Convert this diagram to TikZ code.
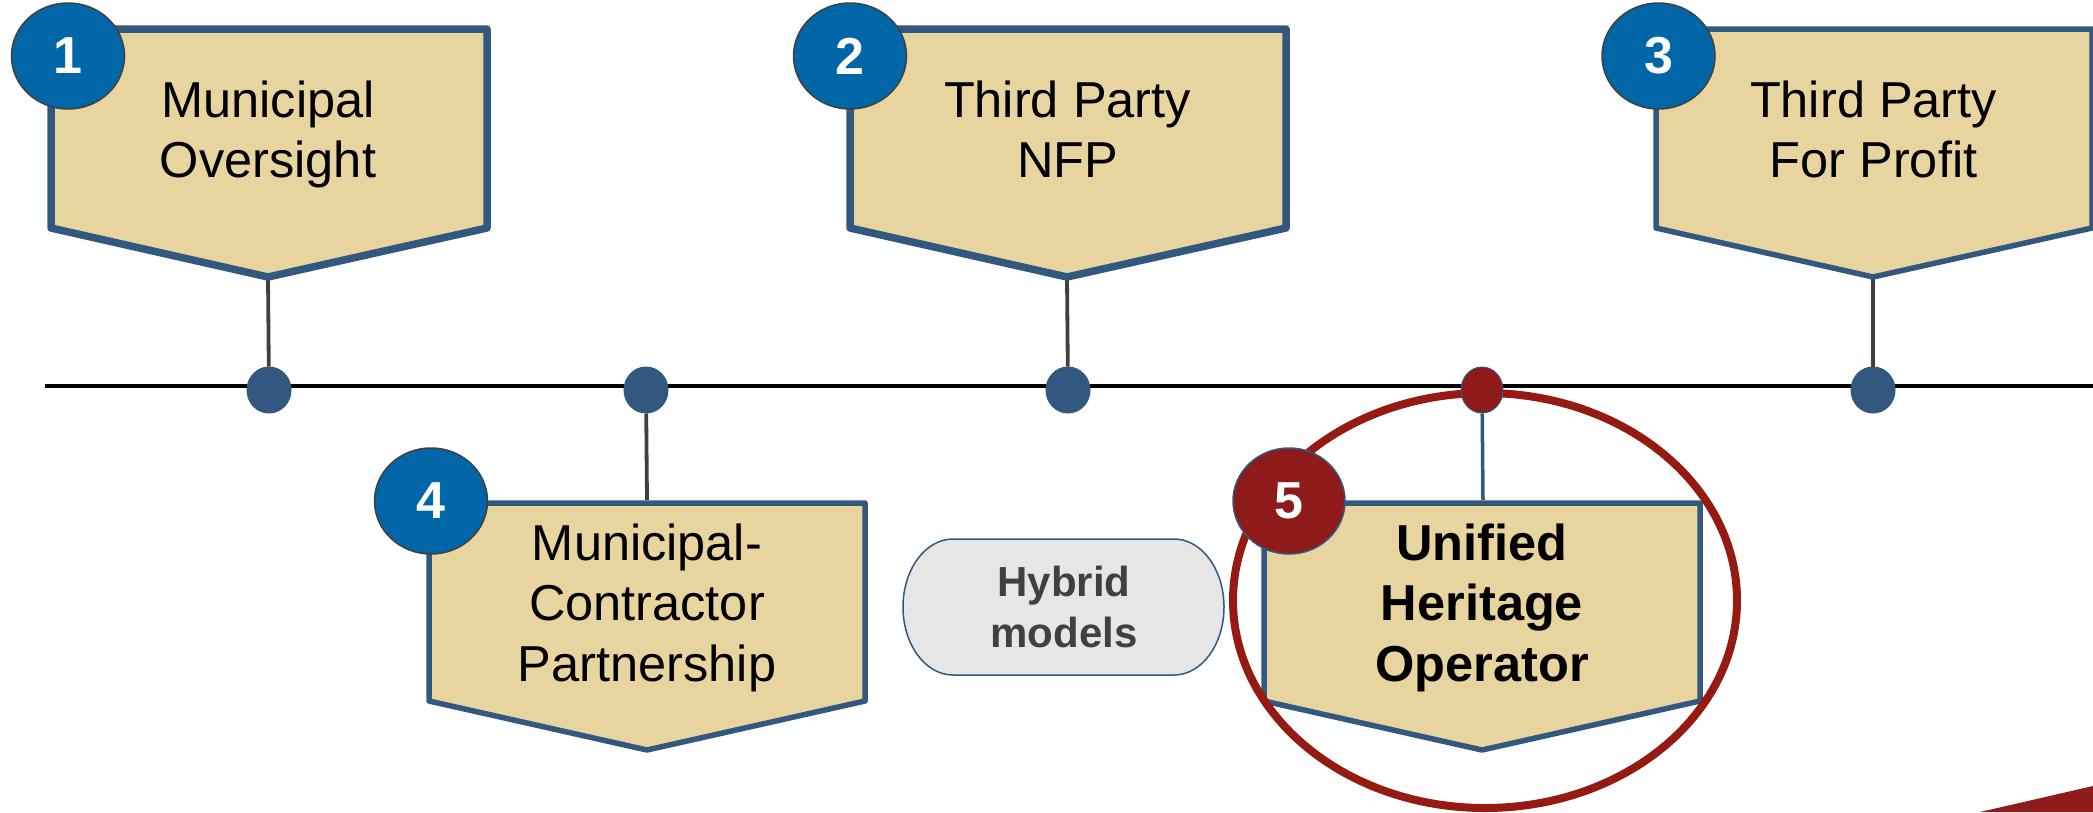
\documentclass[tikz,border=0pt]{standalone}
\usepackage{fontspec}
\setmainfont{Liberation Sans}
\usetikzlibrary{shapes.geometric}
\definecolor{steel}{HTML}{33587F}
\definecolor{sand}{HTML}{E7D49E}
\definecolor{badgeblue}{HTML}{0066A8}
\definecolor{darkred}{HTML}{8F1A1A}
\definecolor{ringred}{HTML}{941A12}
\definecolor{stem}{HTML}{404040}
\definecolor{pillgray}{HTML}{E6E6E6}
\newcommand{\digitlow}[1]{\raisebox{-3.5pt}{#1}}
\tikzset{
  x=1pt,y=-1pt,
  dotnode/.style={ellipse,draw=steel,line width=1pt,fill=steel,minimum width=44pt,minimum height=46pt,inner sep=0pt},
  reddot/.style={dotnode,fill=darkred,minimum width=42pt},
  badge/.style={ellipse,draw=stem,fill=badgeblue,line width=1.5pt,minimum width=113pt,minimum height=106pt,inner sep=0pt,text=white,font=\fontsize{52}{52}\selectfont\bfseries},
  redbadge/.style={badge,draw=steel,fill=darkred,minimum width=112pt},
  tag/.style={draw=steel,line width=#1,fill=sand,line join=round},
  stemline/.style={draw=stem,line width=3.8pt},
  label/.style={align=center,inner sep=0pt,font=\fontsize{50.5}{60.5}\selectfont},
  boldlabel/.style={label,font=\fontsize{50.5}{60.5}\selectfont\bfseries},
  pilllabel/.style={label,text=stem,font=\fontsize{42}{51}\selectfont\bfseries},
}
\begin{document}
\begin{tikzpicture}
\clip (0,0) rectangle (2093,812);
\fill[white] (0,0) rectangle (2093,812);
% corner wedge
\fill[darkred] (1980,812) -- (2093,786) -- (2093,812) -- cycle;
% axis
\coordinate (axisL) at (45,386);
\coordinate (axisR) at (2093,386);
\draw[black,line width=4.2pt] (axisL) -- (axisR);
% tips and tops
\coordinate (tip1) at (268,278);
\coordinate (tip2) at (1067,278);
\coordinate (tip3) at (1873,278);
\coordinate (top4) at (647,500);
\coordinate (top5) at (1483,500);
% timeline dots
\node[dotnode] (d1) at (269,390) {};
\node[dotnode] (d4) at (646,390) {};
\node[dotnode] (d2) at (1068,390) {};
\node[dotnode] (d3) at (1873,390) {};
% stems
\draw[stemline] (tip1) -- (d1);
\draw[stemline] (tip2) -- (d2);
\draw[stemline] (tip3) -- (d3);
\draw[stemline] (d4) -- (top4);
% tags
\draw[tag=7.5pt] (51,29) -- (487,29) -- (487,228) -- (268,277) -- (51,228) -- cycle;
\draw[tag=7.5pt] (850,29) -- (1286,29) -- (1286,228) -- (1067,277) -- (850,228) -- cycle;
\draw[tag=5.5pt] (1656,29) -- (2092,29) -- (2092,228) -- (1873,277) -- (1656,228) -- cycle;
\draw[tag=5.5pt] (429,503) -- (865,503) -- (865,701) -- (647,750) -- (429,701) -- cycle;
\draw[tag=5.5pt] (1264,503) -- (1700,503) -- (1700,701) -- (1482,750) -- (1264,701) -- cycle;
% red ring
\draw[ringred,line width=8pt] (1485,600.5) ellipse [x radius=252,y radius=207.5];
\node[reddot] (d5) at (1482,390) {};
\draw[steel,line width=3.5pt] (d5) -- (top5);
% tag labels
\node[label] (t1) at (268,135.2) {\strut Municipal\\\strut Oversight};
\node[label] (t2) at (1067.5,135.2) {\strut Third Party\\\strut NFP};
\node[label] (t3) at (1873.5,135.2) {\strut Third Party\\\strut For Profit};
\node[label] (t4) at (647,608.4) {\strut Municipal-\\\strut Contractor\\\strut Partnership};
\node[boldlabel] (t5) at (1482,608.4) {\strut Unified\\\strut Heritage\\\strut Operator};
% badges
\node[badge] (b1) at (68,56) {\digitlow{1}};
\node[badge] (b2) at (850,56) {\digitlow{2}};
\node[badge] (b3) at (1658.5,56) {\digitlow{3}};
\node[badge] (b4) at (431,501) {\digitlow{4}};
\node[redbadge] (b5) at (1289,501) {\digitlow{5}};
% hybrid pill
\draw[steel,line width=1.5pt,fill=pillgray] (953,539) -- (1174,539) arc [start angle=-90,end angle=90,x radius=50,y radius=68] -- (953,675) arc [start angle=90,end angle=270,x radius=50,y radius=68] -- cycle;
\node[pilllabel] (hy) at (1064,612) {\strut Hybrid\\\strut models};
\end{tikzpicture}
\end{document}
